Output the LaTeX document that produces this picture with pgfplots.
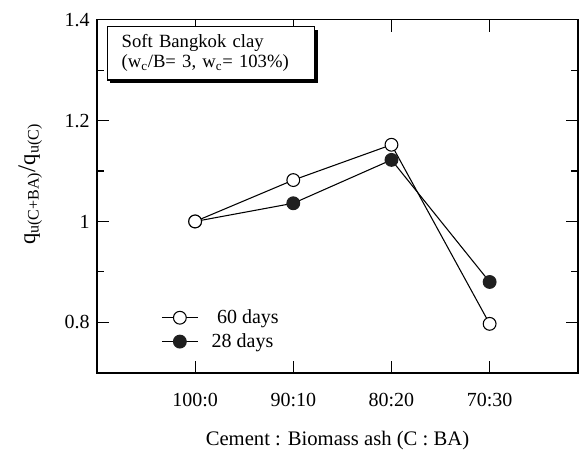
\documentclass[border=0pt]{standalone}
\usepackage{pgfplots}
\pgfplotsset{compat=1.18}
\usepackage{fontspec}
\setmainfont{Liberation Serif}
\usetikzlibrary{shadows}

\begin{document}
\begin{tikzpicture}
\begin{axis}[
    scale only axis,
    width=361pt, height=265pt,
    xmin=0, xmax=4.9,
    ymin=0.7, ymax=1.4,
    xtick={1,2,3,4},
    xticklabels={100:0,90:10,80:20,70:30},
    ytick={0.8,1,1.2,1.4},
    yticklabels={0.8,1,1.2,1.4},
    minor ytick={0.9,1.1,1.3},
    /pgf/number format/assume math mode=true,
    tick align=inside,
    major tick length=9pt,
    minor tick length=5pt,
    axis line style={line width=1.1pt},
    every tick/.style={black, line width=0.8pt},
    ticklabel style={font=\fontsize{15}{18}\selectfont},
    xticklabel style={yshift=-12pt},
    yticklabel style={xshift=-2pt},
    xlabel={Cement : Biomass ash (C : BA)},
    xlabel style={font=\fontsize{15.5}{18}\selectfont, yshift=-11pt},
    ylabel={\fontsize{17}{20}\selectfont q\textsubscript{\fontsize{12}{14}\selectfont u(C+BA)}{\fontsize{19}{20}\selectfont/}q\textsubscript{\fontsize{12}{14}\selectfont u(C)}},
    ylabel style={yshift=10pt, xshift=9pt},
    reverse legend,
    legend style={draw=none, fill=none, at={(rel axis cs:0.125,0.05)}, anchor=south west,
        font=\fontsize{15}{18}\selectfont, row sep=2pt},
    legend cell align=left,
    legend image code/.code={
        \draw[#1, mark=none] (0pt,0pt) -- (27pt,0pt);
        \draw[#1] plot coordinates {(13.5pt,0pt)};
    },
    clip=false,
]

\addplot[black, line width=0.8pt, mark=*, mark size=4.8pt, mark options={fill=black!88, draw=black!88}]
coordinates {
(1,1.000)
(2,1.036)
(3,1.122)
(4,0.880)
};
\addlegendentry{\hspace{8pt}28 days}

\addplot[black, line width=0.8pt, mark=*, mark size=4.8pt, mark options={fill=white, line width=0.8pt}]
coordinates {
(1,1.000)
(2,1.082)
(3,1.152)
(4,0.797)
};
\addlegendentry{\hspace{12pt}60 days}

\node[draw=black, line width=0.8pt, fill=white, anchor=north west, outer sep=0pt,
      drop shadow={shadow xshift=2.5pt, shadow yshift=-2.5pt, fill=black, opacity=1},
      text width=134pt, align=left, inner xsep=11pt, inner ysep=4pt,
      minimum height=40pt, font=\fontsize{14}{15}\selectfont]
  at (rel axis cs:0.021,0.98)
  {Soft Bangkok clay\\(w\textsubscript{c}/B= 3, w\textsubscript{c}= 103\%)};

\end{axis}
\pgfresetboundingbox
\path (current axis.south west) ++(-72.75pt,-59.25pt) rectangle ++(434.5pt,339pt);
\end{tikzpicture}
\end{document}
